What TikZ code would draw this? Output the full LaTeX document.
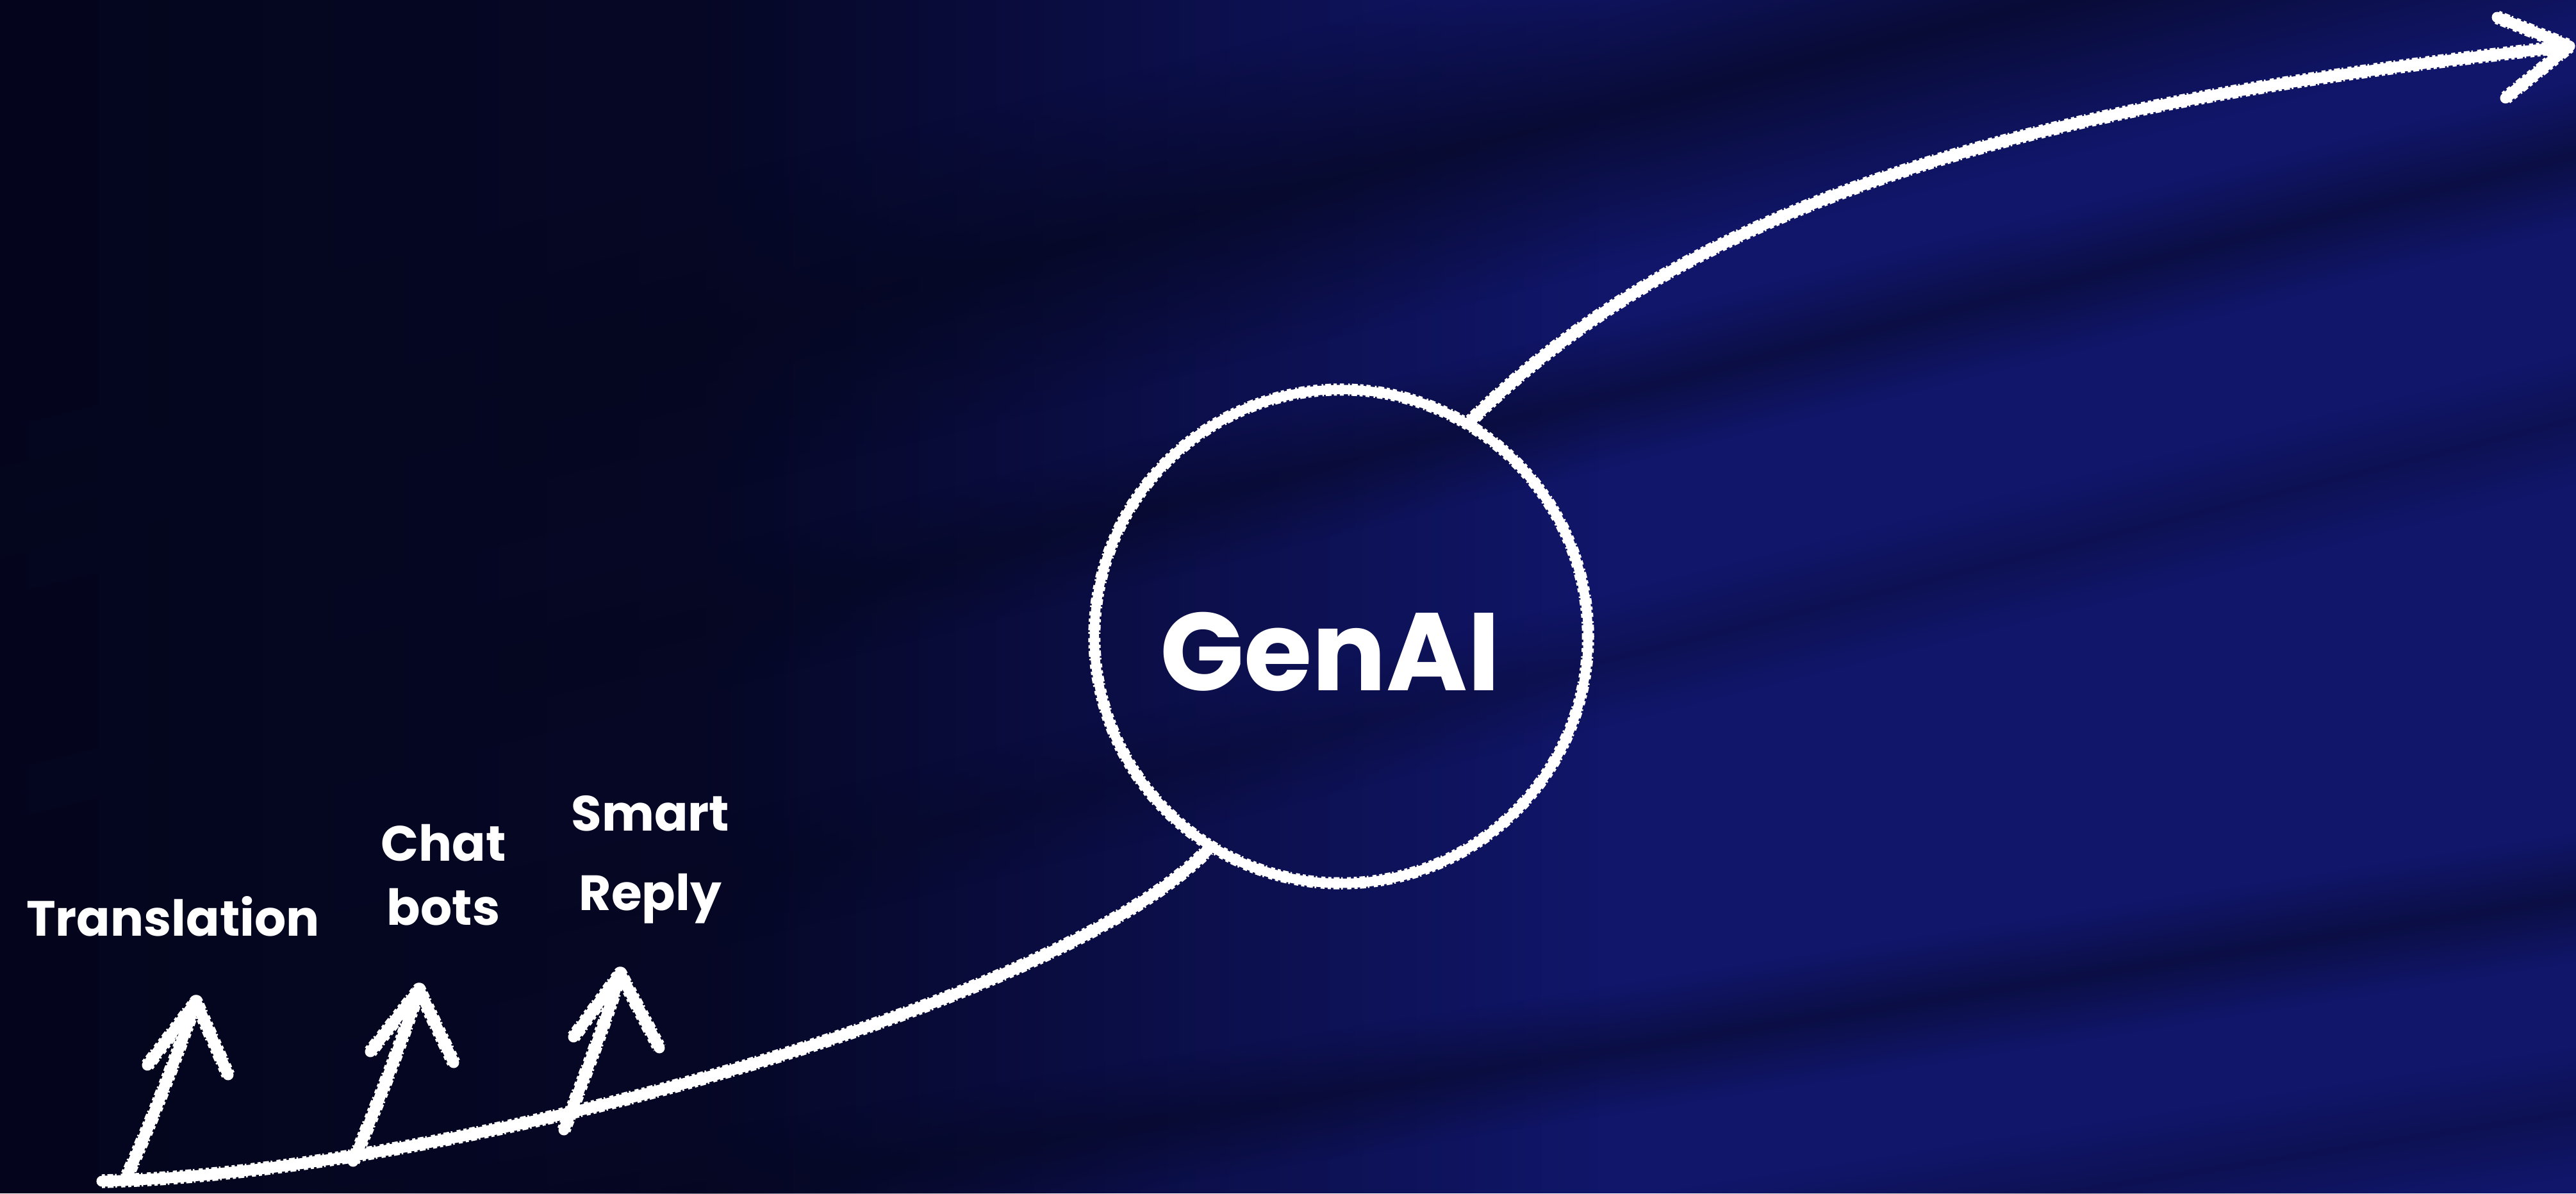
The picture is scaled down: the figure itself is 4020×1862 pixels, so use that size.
\documentclass[tikz,border=0pt]{standalone}
\usepackage{fontspec}
\setmainfont{Poppins}
\usetikzlibrary{fadings}
\definecolor{bgdark}{HTML}{04051A}
\definecolor{bgblue}{HTML}{11166A}
\definecolor{streak}{HTML}{050720}
\tikzfading[name=bandfade, top color=transparent!100, bottom color=transparent!100, middle color=transparent!0]
\tikzfading[name=leftfade, left color=transparent!0, right color=transparent!100, middle color=transparent!15]
\tikzset{
  chalk/.style={draw=white, line width=0.17cm, line cap=round, line join=round,
    postaction={draw=white, line width=0.215cm, line cap=butt,
      dash pattern=on 1.4pt off 1.1pt on 2.6pt off 0.8pt on 0.7pt off 1.9pt on 1.8pt off 1.3pt}},
  ringstyle/.style={circle, draw=white, line width=0.145cm, minimum size=7.7cm, inner sep=0pt,
    postaction={draw=white, line width=0.19cm, line cap=butt,
      dash pattern=on 1.4pt off 1.1pt on 2.6pt off 0.8pt on 0.7pt off 1.9pt on 1.8pt off 1.3pt}},
  lbl/.style={text=white, font=\bfseries\fontsize{22}{28.2}\selectfont, align=center, inner sep=0pt},
  big/.style={text=white, font=\bfseries\fontsize{49}{55}\selectfont, inner sep=0pt},
  band/.style={fill=streak, path fading=bandfade}
}
\begin{document}
\begin{tikzpicture}[x=0.01cm, y=-0.01cm]
\useasboundingbox (0,0) rectangle (4020,1862);
% background
\fill[bgblue] (0,0) rectangle (4020,1862);
\fill[bgdark, path fading=leftfade] (-300,0) rectangle (2500,1862);
\begin{scope}[transform canvas={rotate around={14:(2000,931)}}]
\fill[band, opacity=0.7] (-1500,80) rectangle (5500,560);
\fill[band, opacity=0.5] (-1500,640) rectangle (5500,860);
\fill[band, opacity=0.3] (-1500,1050) rectangle (5500,1250);
\end{scope}
\begin{scope}[transform canvas={rotate around={9:(2000,1700)}}]
\fill[band, opacity=0.5] (-1500,1620) rectangle (5500,1820);
\fill[band, opacity=0.3] (-1500,1950) rectangle (5500,2150);
\end{scope}
% circle and title
\node[ringstyle] (ring) at (2093,993) {};
\node[big, anchor=base] (genai) at (2076,1077) {GenAI};
% labels
\node[lbl, anchor=base] (trans) at (270,1460) {Translation};
\node[lbl, anchor=base] (chat) at (692,1443) {Chat\\bots};
\node[lbl, anchor=base, font=\bfseries\fontsize{22}{35}\selectfont] (smart) at (1015,1420) {Smart\\Reply};
% coordinates of the main curve
\coordinate (start) at (159,1843);
\coordinate (tip) at (4010,72);
\coordinate (barbA) at (3897,27);
\coordinate (barbB) at (3910,153);
% main curve
\draw[chalk] (start) .. controls (700,1830) and (1650,1570) .. (ring.238);
\draw[chalk] (ring.59) .. controls (2692,262) and (3310,149) .. (tip);
\draw[chalk] (barbA) -- (tip) -- (barbB);
% small arrows
\coordinate (t0) at (199,1833); \coordinate (t1) at (306,1563);
\coordinate (tl) at (230,1662); \coordinate (tr) at (356,1677);
\coordinate (c0) at (551,1812); \coordinate (c1) at (654,1544);
\coordinate (cl) at (578,1641); \coordinate (cr) at (708,1658);
\coordinate (s0) at (880,1763); \coordinate (s1) at (968,1519);
\coordinate (sl) at (895,1618); \coordinate (sr) at (1029,1635);
\draw[chalk] (t0) .. controls (250,1720) and (285,1620) .. (t1);
\draw[chalk] (tl) -- (t1) -- (tr);
\draw[chalk] (c0) .. controls (600,1700) and (635,1600) .. (c1);
\draw[chalk] (cl) -- (c1) -- (cr);
\draw[chalk] (s0) .. controls (920,1660) and (950,1580) .. (s1);
\draw[chalk] (sl) -- (s1) -- (sr);
\end{tikzpicture}
\end{document}
